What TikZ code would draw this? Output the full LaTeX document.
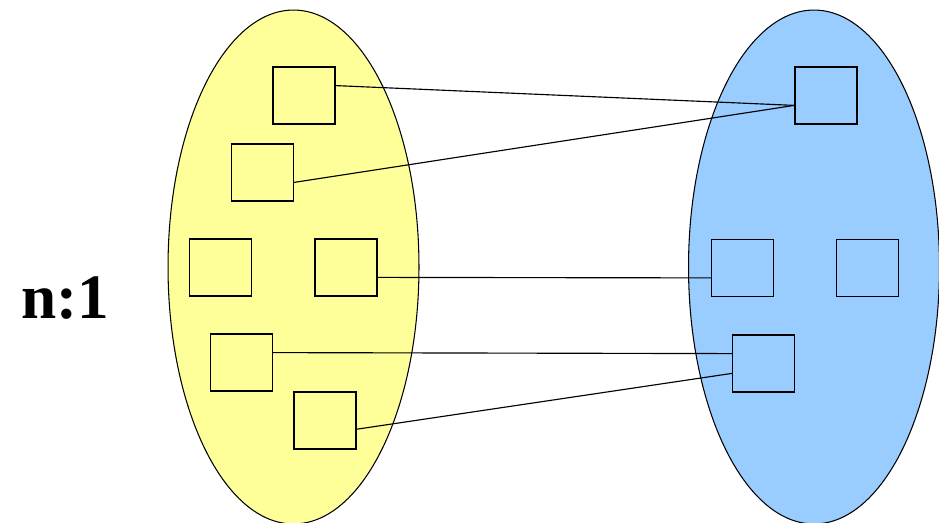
\documentclass[tikz,border=0pt]{standalone}
\usepackage{fontspec}
\setmainfont{Liberation Serif}
\usepackage{tikz}
\usetikzlibrary{shapes.geometric,calc}
\usepackage{xcolor}

\definecolor{setyellow}{HTML}{FFFF99}
\definecolor{setblue}{HTML}{99CCFF}

\begin{document}
\begin{tikzpicture}[
    x=0.02cm, y=-0.02cm,
    set/.style={ellipse, draw, line width=0.6pt, minimum width=5.02cm, minimum height=10.28cm, inner sep=0pt},
    elem/.style={rectangle, draw, line width=0.7pt, minimum width=1.24cm, minimum height=1.14cm, inner sep=0pt},
    link/.style={line width=0.65pt},
]
\useasboundingbox (0,0) rectangle (939,523);

% the two sets
\node[set, fill=setyellow] (lset) at (293.5,267) {};
\node[set, fill=setblue] (rset) at (814,267) {};

% elements of the left set
\node[elem, fill=setyellow] (la) at (304,95.5) {};
\node[elem, fill=setyellow] (lb) at (262.5,172.5) {};
\node[elem, fill=setyellow] (lc) at (220.5,267.5) {};
\node[elem, fill=setyellow] (ld) at (346,267.5) {};
\node[elem, fill=setyellow] (le) at (241.5,362.5) {};
\node[elem, fill=setyellow] (lf) at (325,420.5) {};

% elements of the right set
\node[elem, fill=setblue] (ra) at (826,95.5) {};
\node[elem, fill=setblue] (rb) at (742.5,268) {};
\node[elem, fill=setblue] (rc) at (867.5,268) {};
\node[elem, fill=setblue] (rd) at (763.5,363.5) {};

% mapping
\draw[link] ($(la.north east)!.33!(la.south east)$) -- ($(ra.north west)!.67!(ra.south west)$);
\draw[link] ($(lb.north east)!.67!(lb.south east)$) -- ($(ra.north west)!.67!(ra.south west)$);
\draw[link] ($(ld.north east)!.67!(ld.south east)$) -- ($(rb.north west)!.67!(rb.south west)$);
\draw[link] ($(le.north east)!.33!(le.south east)$) -- ($(rd.north west)!.33!(rd.south west)$);
\draw[link] ($(lf.north east)!.65!(lf.south east)$) -- ($(rd.north west)!.67!(rd.south west)$);

% label
\node[font=\fontsize{36}{40}\selectfont\bfseries] (ratio) at (65,298) {n:1};

\end{tikzpicture}
\end{document}
